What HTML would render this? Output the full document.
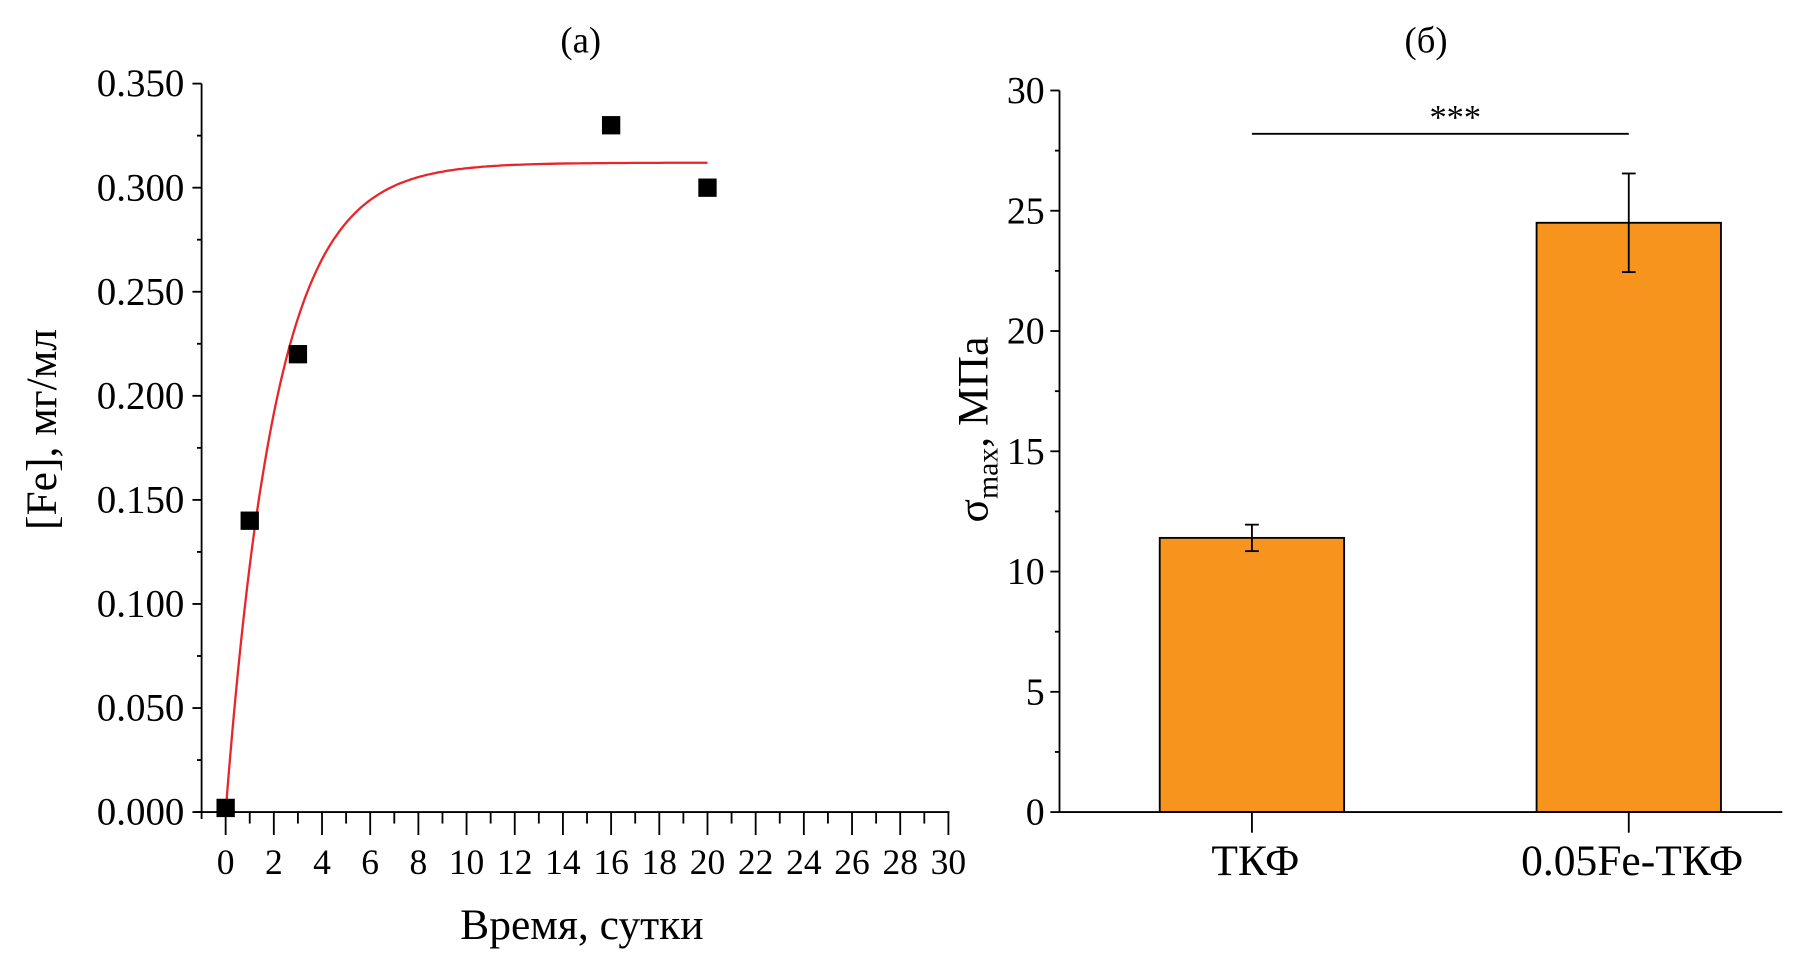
<!DOCTYPE html>
<html><head><meta charset="utf-8"><style>
html,body{margin:0;padding:0;background:#fff;overflow:hidden}
svg{display:block}
text{font-family:"Liberation Serif","DejaVu Serif",serif;fill:#000}
</style></head><body>
<svg id="fig" width="1796" height="961" viewBox="0 0 1568 839" preserveAspectRatio="none"></svg>
<script>
// Panel (a) data
const daysX = [0, 1, 3, 16, 20];
const feY = [0.002, 0.14, 0.22, 0.33, 0.30];
const fitA = [0.312];
const fitK = [2.1];
const fitRange = [0, 20];
const xTicksA = [0,2,4,6,8,10,12,14,16,18,20,22,24,26,28,30];
const yTicksA = [0,0.05,0.1,0.15,0.2,0.25,0.3,0.35];
const yTickLabelsA = ["0.000","0.050","0.100","0.150","0.200","0.250","0.300","0.350"];
// Panel (b) data
const categoriesB = ["ТКФ","0.05Fe-ТКФ"];
const valuesB = [11.4, 24.5];
const errorsB = [0.55, 2.05];
const yTicksB = [0,5,10,15,20,25,30];
const sigLevel = [28.2];

const NS="http://www.w3.org/2000/svg";
const svg=document.getElementById('fig');
function mk(tag,attrs,parent){const e=document.createElementNS(NS,tag);for(const k in attrs)e.setAttribute(k,attrs[k]);(parent||svg).appendChild(e);return e;}
function txt(s,attrs,parent){const e=mk('text',attrs,parent);e.textContent=s;return e;}

// ---- Panel a ----
const gA=mk('g',{});


const ax0=197, ax1=828, ay0=709, ay1=73;
const xA=v=>ax0+(v-0)/30*(ax1-ax0);
const yA=v=>ay0-(v/0.35)*(ay0-ay1);
const t1=txt('(a)',{x:507,y:46,'font-size':32,'text-anchor':'middle'},gA);


const axA=mk('g',{stroke:'#000','stroke-width':1.6,fill:'none'},gA);


mk('line',{x1:176,y1:ay1,x2:176,y2:715},axA);
mk('line',{x1:170,y1:ay0,x2:829,y2:ay0},axA);
for(let i=0;i<=14;i++){const v=i*0.025;const y=yA(v);const major=i%2==0;mk('line',{x1:major?168:172,y1:y,x2:176,y2:y},axA);}
for(let d=0;d<=30;d++){const x=xA(d);const major=d%2==0;mk('line',{x1:x,y1:ay0,x2:x,y2:ay0+(major?20:10)},axA);}
yTicksA.forEach((v,i)=>{const t=txt(yTickLabelsA[i],{x:161,y:yA(v)+11,'font-size':34,'text-anchor':'end'},gA);

});
xTicksA.forEach(v=>{const t=txt(String(v),{x:xA(v),y:763,'font-size':31,'text-anchor':'middle'},gA);

});
const xt=txt('Время, сутки',{x:508,y:820,'font-size':38,'text-anchor':'middle'},gA);


const yt=txt('[Fe], мг/мл',{x:0,y:0,'font-size':38,'text-anchor':'middle',transform:'translate(49,375) rotate(-90)'},gA);


let pts=[];for(let i=0;i<=200;i++){const t=fitRange[0]+(fitRange[1]-fitRange[0])*i/200;pts.push(xA(t).toFixed(1)+','+yA(fitA[0]*(1-Math.exp(-t/fitK[0]))).toFixed(1));}
const fl=mk('polyline',{points:pts.join(' '),fill:'none',stroke:'#e8262a','stroke-width':2},gA);


daysX.forEach((d,i)=>{const r=mk('rect',{x:xA(d)-8,y:yA(feY[i])-8,width:16,height:16,fill:'#000'},gA);

});

// ---- Panel b ----
const gB=mk('g',{});


const bx0=925, by0=709, by1=79;
const yB=v=>by0-v/30*(by0-by1);
const centers=[1093,1422];
const bw=161;
const t2=txt('(б)',{x:1245,y:46,'font-size':32,'text-anchor':'middle'},gB);


valuesB.forEach((v,i)=>{const c=centers[i];
const r=mk('rect',{x:c-bw/2,y:yB(v),width:bw,height:by0-yB(v),fill:'#f7941d',stroke:'#000','stroke-width':1.6},gB);


const e=mk('g',{stroke:'#000','stroke-width':1.6},gB);


mk('line',{x1:c,y1:yB(v+errorsB[i]),x2:c,y2:yB(v-errorsB[i])},e);
mk('line',{x1:c-6,y1:yB(v+errorsB[i]),x2:c+6,y2:yB(v+errorsB[i])},e);
mk('line',{x1:c-6,y1:yB(v-errorsB[i]),x2:c+6,y2:yB(v-errorsB[i])},e);
const l=txt(categoriesB[i],{x:c+3,y:764,'font-size':38,'text-anchor':'middle'},gB);

});
const axB=mk('g',{stroke:'#000','stroke-width':1.6},gB);


mk('line',{x1:bx0,y1:by1,x2:bx0,y2:by0},axB);
mk('line',{x1:bx0,y1:by0,x2:1556,y2:by0},axB);
for(let i=0;i<=12;i++){const y=yB(i*2.5);mk('line',{x1:i%2==0?917:921,y1:y,x2:bx0,y2:y},axB);}
centers.forEach(c=>mk('line',{x1:c,y1:by0,x2:c,y2:by0+18},axB));
yTicksB.forEach(v=>{const t=txt(String(v),{x:912,y:yB(v)+11,'font-size':33,'text-anchor':'end'},gB);

});
const sl=mk('line',{x1:centers[0],y1:yB(sigLevel[0]),x2:centers[1],y2:yB(sigLevel[0]),stroke:'#000','stroke-width':1.6},gB);


const st=txt('***',{x:(centers[0]+centers[1])/2+13,y:yB(sigLevel[0])-4,'font-size':30,'text-anchor':'middle'},gB);


const yb=mk('text',{x:0,y:0,'font-size':38,'text-anchor':'middle',transform:'translate(862,375) rotate(-90)'},gB);


yb.innerHTML='σ<tspan font-size="26" dy="9">max</tspan><tspan dy="-9">, МПа</tspan>';
</script>
</body></html>
